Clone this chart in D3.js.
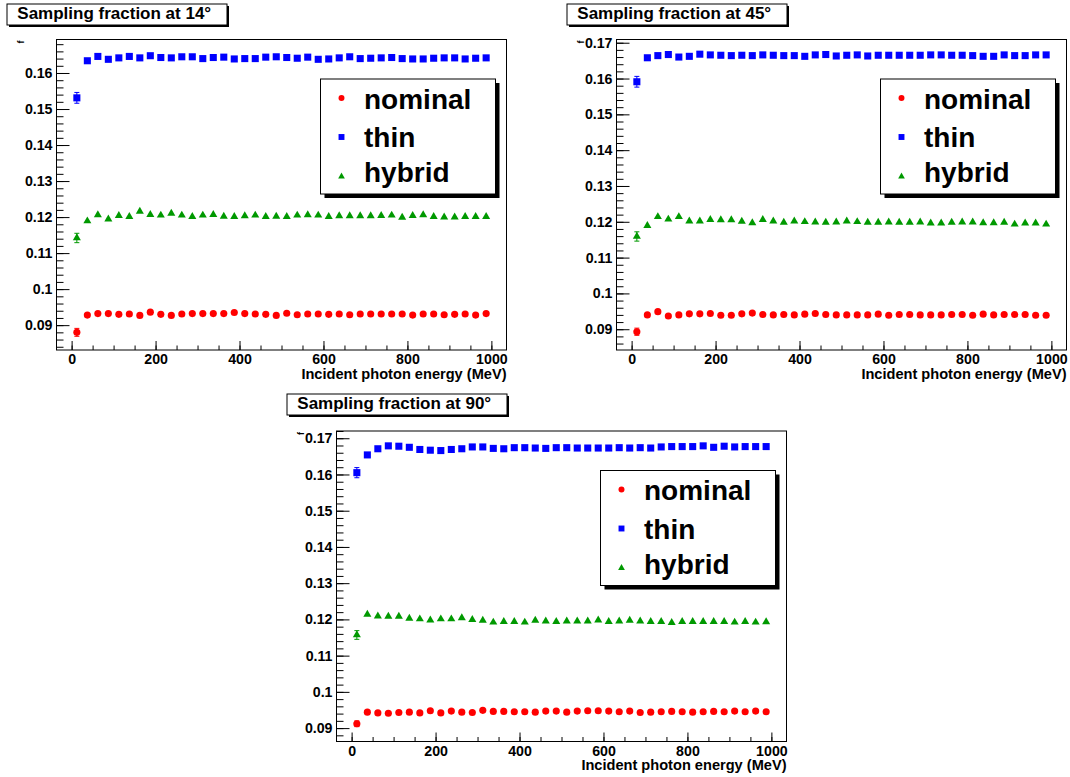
<!DOCTYPE html>
<html>
<head>
<meta charset="utf-8">
<script src="https://cdn.jsdelivr.net/npm/d3@7"></script>
<style>
  body { margin: 0; background: #fff; }
  svg { display: block; }
</style>
</head>
<body>
<svg id="chart" width="1070" height="777"></svg>
<script>

// Data
const energy = [12.5, 37.5, 62.5, 87.5, 112.5, 137.5, 162.5, 187.5, 212.5, 237.5,
                262.5, 287.5, 312.5, 337.5, 362.5, 387.5, 412.5, 437.5, 462.5, 487.5,
                512.5, 537.5, 562.5, 587.5, 612.5, 637.5, 662.5, 687.5, 712.5, 737.5,
                762.5, 787.5, 812.5, 837.5, 862.5, 887.5, 912.5, 937.5, 962.5, 987.5];

const seriesNames = ["nominal", "thin", "hybrid"];
const xTickValues = [0, 200, 400, 600, 800, 1000];
const yTickValues = [0.09, 0.10, 0.11, 0.12, 0.13, 0.14, 0.15, 0.16, 0.17];

// 14 degrees
const nominal14 = [0.0880, 0.0928, 0.0932, 0.0932, 0.0930, 0.0931, 0.0927, 0.0936, 0.0930, 0.0927,
                   0.0931, 0.0932, 0.0932, 0.0932, 0.0932, 0.0935, 0.0932, 0.0931, 0.0930, 0.0927,
                   0.0933, 0.0929, 0.0931, 0.0931, 0.0930, 0.0931, 0.0929, 0.0931, 0.0931, 0.0931,
                   0.0931, 0.0931, 0.0928, 0.0931, 0.0931, 0.0929, 0.0930, 0.0931, 0.0928, 0.0932];
const thin14 = [0.1531, 0.1634, 0.1646, 0.1638, 0.1642, 0.1646, 0.1642, 0.1648, 0.1643, 0.1642,
                0.1645, 0.1645, 0.1640, 0.1643, 0.1644, 0.1639, 0.1640, 0.1640, 0.1644, 0.1645,
                0.1643, 0.1641, 0.1644, 0.1638, 0.1639, 0.1642, 0.1645, 0.1640, 0.1641, 0.1642,
                0.1643, 0.1640, 0.1639, 0.1639, 0.1641, 0.1642, 0.1642, 0.1639, 0.1641, 0.1642];
const hybrid14 = [0.1142, 0.1189, 0.1206, 0.1194, 0.1204, 0.1201, 0.1216, 0.1207, 0.1205, 0.1210,
                  0.1205, 0.1201, 0.1205, 0.1207, 0.1202, 0.1201, 0.1203, 0.1205, 0.1201, 0.1202,
                  0.1201, 0.1205, 0.1206, 0.1205, 0.1201, 0.1203, 0.1203, 0.1203, 0.1203, 0.1204,
                  0.1205, 0.1199, 0.1204, 0.1206, 0.1201, 0.1200, 0.1200, 0.1201, 0.1201, 0.1201];
const firstErr14 = [0.0011, 0.0015, 0.0013];
const yDomain14 = [0.0831, 0.1693];

// 45 degrees
const nominal45 = [0.0893, 0.0940, 0.0949, 0.0937, 0.0940, 0.0943, 0.0943, 0.0944, 0.0939, 0.0939,
                   0.0943, 0.0945, 0.0941, 0.0940, 0.0941, 0.0940, 0.0942, 0.0944, 0.0941, 0.0940,
                   0.0940, 0.0940, 0.0940, 0.0942, 0.0939, 0.0941, 0.0941, 0.0940, 0.0940, 0.0940,
                   0.0941, 0.0941, 0.0939, 0.0942, 0.0940, 0.0941, 0.0941, 0.0941, 0.0939, 0.0939];
const thin45 = [0.1591, 0.1658, 0.1664, 0.1667, 0.1660, 0.1662, 0.1668, 0.1666, 0.1665, 0.1664,
                0.1665, 0.1664, 0.1666, 0.1665, 0.1664, 0.1664, 0.1662, 0.1666, 0.1667, 0.1663,
                0.1665, 0.1666, 0.1663, 0.1665, 0.1665, 0.1665, 0.1665, 0.1665, 0.1666, 0.1666,
                0.1665, 0.1665, 0.1664, 0.1662, 0.1662, 0.1666, 0.1664, 0.1664, 0.1666, 0.1666];
const hybrid45 = [0.1159, 0.1189, 0.1214, 0.1207, 0.1214, 0.1202, 0.1202, 0.1206, 0.1205, 0.1205,
                  0.1201, 0.1197, 0.1206, 0.1202, 0.1198, 0.1202, 0.1200, 0.1199, 0.1198, 0.1199,
                  0.1202, 0.1200, 0.1198, 0.1198, 0.1199, 0.1198, 0.1198, 0.1199, 0.1196, 0.1196,
                  0.1198, 0.1199, 0.1199, 0.1197, 0.1197, 0.1198, 0.1193, 0.1196, 0.1196, 0.1193];
const firstErr45 = [0.0010, 0.0015, 0.0013];
const yDomain45 = [0.0842, 0.1709];

// 90 degrees
const nominal90 = [0.0912, 0.0944, 0.0942, 0.0941, 0.0943, 0.0944, 0.0942, 0.0948, 0.0942, 0.0947,
                   0.0944, 0.0943, 0.0949, 0.0946, 0.0946, 0.0945, 0.0945, 0.0944, 0.0947, 0.0947,
                   0.0944, 0.0947, 0.0948, 0.0948, 0.0947, 0.0945, 0.0947, 0.0943, 0.0944, 0.0945,
                   0.0946, 0.0945, 0.0944, 0.0945, 0.0946, 0.0945, 0.0947, 0.0945, 0.0947, 0.0945];
const thin90 = [0.1605, 0.1654, 0.1671, 0.1679, 0.1678, 0.1675, 0.1669, 0.1667, 0.1666, 0.1669,
                0.1671, 0.1676, 0.1676, 0.1672, 0.1671, 0.1674, 0.1674, 0.1673, 0.1672, 0.1674,
                0.1674, 0.1673, 0.1673, 0.1673, 0.1673, 0.1674, 0.1673, 0.1674, 0.1673, 0.1676,
                0.1677, 0.1677, 0.1677, 0.1679, 0.1675, 0.1678, 0.1676, 0.1677, 0.1677, 0.1677];
const hybrid90 = [0.1157, 0.1214, 0.1209, 0.1208, 0.1208, 0.1203, 0.1201, 0.1198, 0.1201, 0.1201,
                  0.1204, 0.1199, 0.1197, 0.1192, 0.1194, 0.1194, 0.1192, 0.1197, 0.1195, 0.1194,
                  0.1195, 0.1195, 0.1195, 0.1198, 0.1194, 0.1195, 0.1197, 0.1195, 0.1194, 0.1194,
                  0.1191, 0.1194, 0.1194, 0.1194, 0.1194, 0.1194, 0.1192, 0.1194, 0.1192, 0.1193];
const firstErr90 = [0.0008, 0.0014, 0.0012];
const yDomain90 = [0.0863, 0.1720];

// General Variables
let svg = d3.select("#chart");
const W = 450, H = 310.5;
const FONT = "'Liberation Sans', Arial, Helvetica, sans-serif";
const colors = ["#ff0000", "#0000ff", "#009900"];
const symbols = [d3.symbolCircle, d3.symbolSquare, d3.symbolTriangle];
const symbolSizes = [40, 50, 28];

let panels = [
    { angle: "14", data: [nominal14, thin14, hybrid14], err: firstErr14, yDomain: yDomain14,
      left: 56.5, top: 39.5, boxX: 7, boxY: 4 },
    { angle: "45", data: [nominal45, thin45, hybrid45], err: firstErr45, yDomain: yDomain45,
      left: 616.5, top: 39.5, boxX: 567, boxY: 4 },
    { angle: "90", data: [nominal90, thin90, hybrid90], err: firstErr90, yDomain: yDomain90,
      left: 336.5, top: 431, boxX: 287, boxY: 394 }
];

function draw_panel(p) {
    let x = d3.scaleLinear().domain([-36, 1036]).range([0, W]);
    let y = d3.scaleLinear().domain(p.yDomain).range([H, 0]);

    let g = svg.append("g")
        .attr("transform", "translate(" + p.left + "," + p.top + ")");

    // frame
    g.append("rect")
        .attr("width", W).attr("height", H)
        .attr("fill", "none").attr("stroke", "#000").attr("stroke-width", 1);

    // y axis, ticks inside the frame
    let inY = v => v >= p.yDomain[0] && v <= p.yDomain[1];
    let yMinor = d3.range(0.080, 0.175, 0.002).filter(inY);
    g.append("g")
        .call(d3.axisLeft(y).tickValues(yMinor).tickSize(-7).tickFormat(""))
        .call(a => a.select(".domain").remove());
    g.append("g")
        .call(d3.axisLeft(y).tickValues(yTickValues.filter(inY)).tickSize(-13).tickPadding(4)
            .tickFormat(d3.format(".2~f")))
        .call(a => a.select(".domain").remove())
        .selectAll("text")
        .style("font-family", FONT).style("font-weight", "bold").style("font-size", "14.2px")
        .style("fill", "#000");

    // x axis
    let xMinor = d3.range(0, 1001, 50);
    g.append("g")
        .attr("transform", "translate(0," + H + ")")
        .call(d3.axisBottom(x).tickValues(xMinor).tickSize(-4.5).tickFormat(""))
        .call(a => a.select(".domain").remove());
    g.append("g")
        .attr("transform", "translate(0," + H + ")")
        .call(d3.axisBottom(x).tickValues(xTickValues).tickSize(-9).tickPadding(4)
            .tickFormat(d3.format("d")))
        .call(a => a.select(".domain").remove())
        .selectAll("text")
        .style("font-family", FONT).style("font-weight", "bold").style("font-size", "14.2px")
        .style("fill", "#000");

    g.selectAll(".tick line").attr("stroke", "#000");

    // axis titles
    g.append("text")
        .attr("x", W).attr("y", H + 28.5)
        .attr("text-anchor", "end")
        .style("font-family", FONT).style("font-weight", "bold").style("font-size", "14.6px")
        .text("Incident photon energy (MeV)");

    g.append("text")
        .attr("transform", "translate(-33,1) rotate(-90)")
        .attr("text-anchor", "end")
        .style("font-family", FONT).style("font-weight", "bold").style("font-size", "9px")
        .text("f");

    // error bars on the first bin
    p.data.forEach(function(vals, s) {
        let e = p.err[s];
        let cx = x(energy[0]);
        let eg = g.append("g").attr("stroke", colors[s]).attr("stroke-width", 1);
        eg.append("line").attr("x1", cx).attr("x2", cx)
            .attr("y1", y(vals[0] - e)).attr("y2", y(vals[0] + e));
        [vals[0] - e, vals[0] + e].forEach(function(v) {
            eg.append("line").attr("x1", cx - 2.5).attr("x2", cx + 2.5)
                .attr("y1", y(v)).attr("y2", y(v));
        });
    });

    // markers
    p.data.forEach(function(vals, s) {
        g.append("g").selectAll("path")
            .data(vals)
            .enter()
            .append("path")
            .attr("d", d3.symbol().type(symbols[s]).size(symbolSizes[s]))
            .attr("transform", (d, i) => "translate(" + x(energy[i]) + "," + y(d) + ")")
            .attr("fill", colors[s]);
    });

    // legend (offsets from the frame corner)
    let lx = 264, ly = 39.5, lw = 175, lh = 115;
    g.append("rect").attr("x", lx + 4).attr("y", ly + 4).attr("width", lw).attr("height", lh)
        .attr("fill", "#000");
    g.append("rect").attr("x", lx).attr("y", ly).attr("width", lw).attr("height", lh)
        .attr("fill", "#fff").attr("stroke", "#000").attr("stroke-width", 1);

    let markerY = [58.5, 97.5, 137];
    let textY = [69, 107.5, 142.5];
    seriesNames.forEach(function(name, s) {
        g.append("path")
            .attr("d", d3.symbol().type(symbols[s]).size(symbolSizes[s] * 0.7))
            .attr("transform", "translate(" + (lx + 21) + "," + markerY[s] + ")")
            .attr("fill", colors[s]);
        g.append("text")
            .attr("x", lx + 43.5).attr("y", textY[s])
            .style("font-family", FONT).style("font-weight", "bold").style("font-size", "28px")
            .text(name);
    });

    // title box
    svg.append("rect").attr("x", p.boxX + 2).attr("y", p.boxY + 2).attr("width", 220).attr("height", 21)
        .attr("fill", "#000");
    svg.append("rect").attr("x", p.boxX).attr("y", p.boxY).attr("width", 220).attr("height", 21)
        .attr("fill", "#fff").attr("stroke", "#000").attr("stroke-width", 1);
    svg.append("text")
        .attr("x", p.boxX + 10.3).attr("y", p.boxY + 14.8)
        .style("font-family", FONT).style("font-weight", "bold").style("font-size", "17px")
        .text("Sampling fraction at " + p.angle + "\u00b0");
}

panels.forEach(draw_panel);

</script>
</body>
</html>
